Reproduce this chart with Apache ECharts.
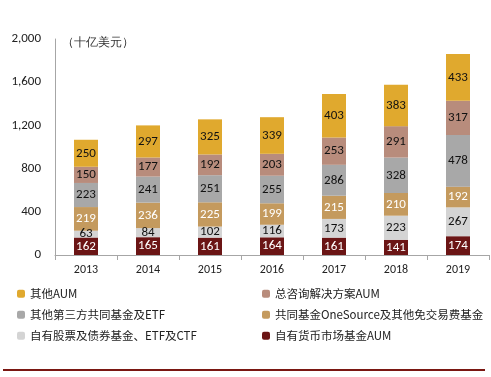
<!DOCTYPE html>
<html>
<head>
<meta charset="utf-8">
<script src="https://cdn.jsdelivr.net/npm/echarts@6/dist/echarts.min.js"></script>
<style>
  html, body { margin: 0; padding: 0; background: #fff; }
  #main { width: 491px; height: 377px; }
</style>
</head>
<body>
<div id="main"></div>
<script>
  var years = ['2013', '2014', '2015', '2016', '2017', '2018', '2019'];
  var moneyMarket = [162, 165, 161, 164, 161, 141, 174];
  var ownEquityBond = [63, 84, 102, 116, 173, 223, 267];
  var oneSource = [219, 236, 225, 199, 215, 210, 192];
  var thirdParty = [223, 241, 251, 255, 286, 328, 478];
  var advisory = [150, 177, 192, 203, 253, 291, 317];
  var otherAum = [250, 297, 325, 339, 403, 383, 433];
  var yTicks = [0, 400, 800, 1200, 1600, 2000];

  var names = ['自有货币市场基金AUM', '自有股票及债券基金、ETF及CTF', '共同基金OneSource及其他免交易费基金',
               '其他第三方共同基金及ETF', '总咨询解决方案AUM', '其他AUM'];
  var colors = ['#6B1515', '#D4D4D4', '#C49A5E', '#A8A8A8', '#B88C7C', '#E0A92E'];
  var labelColors = ['#fff', '#111', '#fff', '#111', '#111', '#111'];
  var values = [moneyMarket, ownEquityBond, oneSource, thirdParty, advisory, otherAum];

  var font = '"Noto Sans CJK SC", "Noto Sans", sans-serif';

  var series = names.map(function (n, i) {
    return {
      name: n,
      type: 'bar',
      stack: 'total',
      barWidth: 24,
      data: values[i],
      itemStyle: { color: colors[i] },
      label: {
        show: true,
        position: 'inside',
        color: labelColors[i],
        fontSize: 13,
        fontFamily: 'Calibri, "Liberation Sans", sans-serif'
      }
    };
  });

  // legend layout: two columns, three rows
  var legendRows = [
    ['其他AUM', '总咨询解决方案AUM'],
    ['其他第三方共同基金及ETF', '共同基金OneSource及其他免交易费基金'],
    ['自有股票及债券基金、ETF及CTF', '自有货币市场基金AUM']
  ];
  var legends = [];
  legendRows.forEach(function (row, r) {
    row.forEach(function (n, c) {
      legends.push({
        data: [n],
        left: c === 0 ? 12 : 257,
        top: 283 + r * 21,
        itemWidth: 8,
        itemHeight: 8,
        itemGap: 4,
        selectedMode: false,
        textStyle: { fontSize: 11.5, color: '#222', fontFamily: font }
      });
    });
  });

  var chart = echarts.init(document.getElementById('main'));
  chart.setOption({
    animation: false,
    grid: { left: 55, right: 2, top: 39, bottom: 122 },
    legend: legends,
    xAxis: {
      type: 'category',
      data: years,
      axisLine: { lineStyle: { color: '#A6A6A6' } },
      axisTick: { show: true, length: 5, lineStyle: { color: '#A6A6A6' } },
      axisLabel: { color: '#222', fontSize: 12, margin: 9, fontFamily: 'Calibri, "Liberation Sans", sans-serif' }
    },
    yAxis: {
      type: 'value',
      min: yTicks[0],
      max: yTicks[yTicks.length - 1],
      interval: 400,
      splitLine: { show: false },
      axisLine: { show: true, lineStyle: { color: '#A6A6A6' } },
      axisTick: { show: false },
      axisLabel: {
        color: '#222', fontSize: 13, margin: 14,
        fontFamily: 'Calibri, "Liberation Sans", sans-serif',
        formatter: function (v) { return v.toLocaleString('en-US'); }
      }
    },
    series: series,
    graphic: [
      {
        type: 'text', left: 62, top: 37,
        style: { text: '（十亿美元）', fontSize: 12, fill: '#333', font: '12px ' + font }
      },
      {
        type: 'line', shape: { x1: 3, y1: 370, x2: 485, y2: 370 },
        style: { stroke: '#7A1712', lineWidth: 2 }
      }
    ]
  });
</script>
</body>
</html>
